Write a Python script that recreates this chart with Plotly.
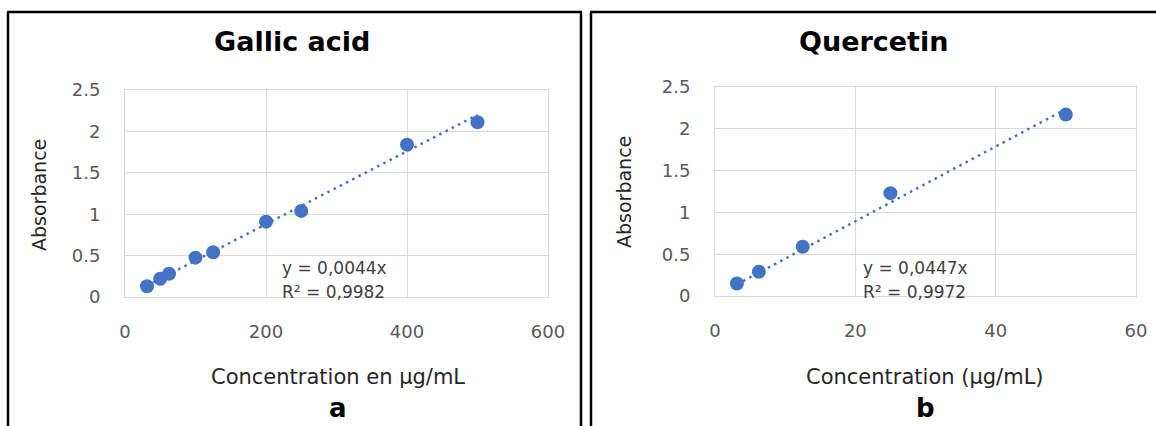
import plotly.graph_objects as go

# ---- data ----
gallic_conc = [31.25, 50, 62.5, 100, 125, 200, 250, 400, 500]
gallic_abs = [0.13, 0.22, 0.28, 0.475, 0.54, 0.91, 1.04, 1.84, 2.11]
gallic_slope = [0.0044]
gallic_eq = ["y = 0,0044x", "R² = 0,9982"]

quer_conc = [3.125, 6.25, 12.5, 25, 50]
quer_abs = [0.15, 0.29, 0.59, 1.23, 2.17]
quer_slope = [0.0447]
quer_eq = ["y = 0,0447x", "R² = 0,9972"]

titles = ["Gallic acid", "Quercetin"]
x_titles = ["Concentration en µg/mL", "Concentration (µg/mL)"]
y_title = "Absorbance"
panel_letters = ["a", "b"]
x_ticks_left = [0, 200, 400, 600]
x_ticks_right = [0, 20, 40, 60]
y_ticks = [0, 0.5, 1, 1.5, 2, 2.5]

W, H = 1156, 426
FONT = "DejaVu Sans"
BLUE = "#4472C4"
GRID = "#d9d9d9"
TICK = "#595959"


def px(x):
    return x / W


def py(y):
    return 1 - y / H


fig = go.Figure()

panels = [
    dict(conc=gallic_conc, ab=gallic_abs, slope=gallic_slope[0], eq=gallic_eq,
         xr=[0, 600], xt=x_ticks_left, xd=(125, 548), yd=(297, 90),
         title_x=292, ytitle_x=39, ytitle_y=195, xtitle_x=338, eq_x=280,
         xa="x", ya="y"),
    dict(conc=quer_conc, ab=quer_abs, slope=quer_slope[0], eq=quer_eq,
         xr=[0, 60], xt=x_ticks_right, xd=(715, 1136), yd=(296, 87),
         title_x=874, ytitle_x=624, ytitle_y=192, xtitle_x=925, eq_x=861,
         xa="x2", ya="y2"),
]

annotations = []
for i, p in enumerate(panels):
    xmin, xmax = min(p["conc"]), max(p["conc"])
    fig.add_trace(go.Scatter(
        x=[xmin, xmax], y=[p["slope"] * xmin, p["slope"] * xmax],
        mode="lines", line=dict(color=BLUE, width=2.5, dash="2.5px,4.5px"),
        xaxis=p["xa"], yaxis=p["ya"], hoverinfo="skip"))
    fig.add_trace(go.Scatter(
        x=p["conc"], y=p["ab"], mode="markers",
        marker=dict(color=BLUE, size=14, line=dict(width=0)),
        xaxis=p["xa"], yaxis=p["ya"]))

    axis_common = dict(showgrid=True, gridcolor=GRID, gridwidth=1,
                       showline=True, linecolor=GRID, linewidth=1, mirror=True,
                       zeroline=False, ticks="", automargin=False,
                       tickfont=dict(family=FONT, size=18, color=TICK))
    xname = "xaxis" if i == 0 else "xaxis2"
    yname = "yaxis" if i == 0 else "yaxis2"
    fig.update_layout(**{
        xname: dict(axis_common, range=p["xr"], tickvals=p["xt"],
                    domain=[px(p["xd"][0]), px(p["xd"][1])],
                    anchor=p["ya"], ticklabelstandoff=18),
        yname: dict(axis_common, range=[0, 2.5], tickvals=y_ticks,
                    ticktext=[("%g" % v) for v in y_ticks],
                    domain=[py(p["yd"][0]), py(p["yd"][1])],
                    anchor=p["xa"], ticklabelstandoff=20),
    })

    def ann(text, x, y, size, bold=False, color="#000000", xanchor="center",
            textangle=0):
        annotations.append(dict(
            text=("<b>%s</b>" % text) if bold else text,
            x=px(x), y=py(y), xref="paper", yref="paper",
            xanchor=xanchor, yanchor="middle", showarrow=False,
            textangle=textangle,
            font=dict(family=FONT, size=size, color=color)))

    ann(titles[i], p["title_x"], 42, 27, bold=True)
    ann(y_title, p["ytitle_x"], p["ytitle_y"], 19, color="#262626", textangle=-90)
    ann(x_titles[i], p["xtitle_x"], 377, 21, color="#262626")
    ann(panel_letters[i], p["xtitle_x"], 408, 26, bold=True)
    ann(p["eq"][0], p["eq_x"], 268, 17, color="#404040", xanchor="left")
    ann(p["eq"][1], p["eq_x"], 292, 17, color="#404040", xanchor="left")

# frame lines around panels
shapes = []
for (x0, y0, x1, y1) in [(8, 12, 8, 426), (7, 12, 582, 12), (581, 12, 581, 426),
                         (591, 12, 591, 426), (590, 12, 1156, 12)]:
    shapes.append(dict(type="line", xref="paper", yref="paper",
                       x0=px(x0), y0=py(y0), x1=px(x1), y1=py(y1),
                       line=dict(color="#000000", width=2.5)))

fig.update_layout(
    width=W, height=H, autosize=False,
    margin=dict(l=0, r=0, t=0, b=0, pad=0),
    paper_bgcolor="white", plot_bgcolor="white",
    showlegend=False,
    annotations=annotations, shapes=shapes,
)

fig.write_html(
    "out.html",
    config={"displayModeBar": False},
    post_script="document.body.style.margin='0';document.body.style.overflow='hidden';",
)
